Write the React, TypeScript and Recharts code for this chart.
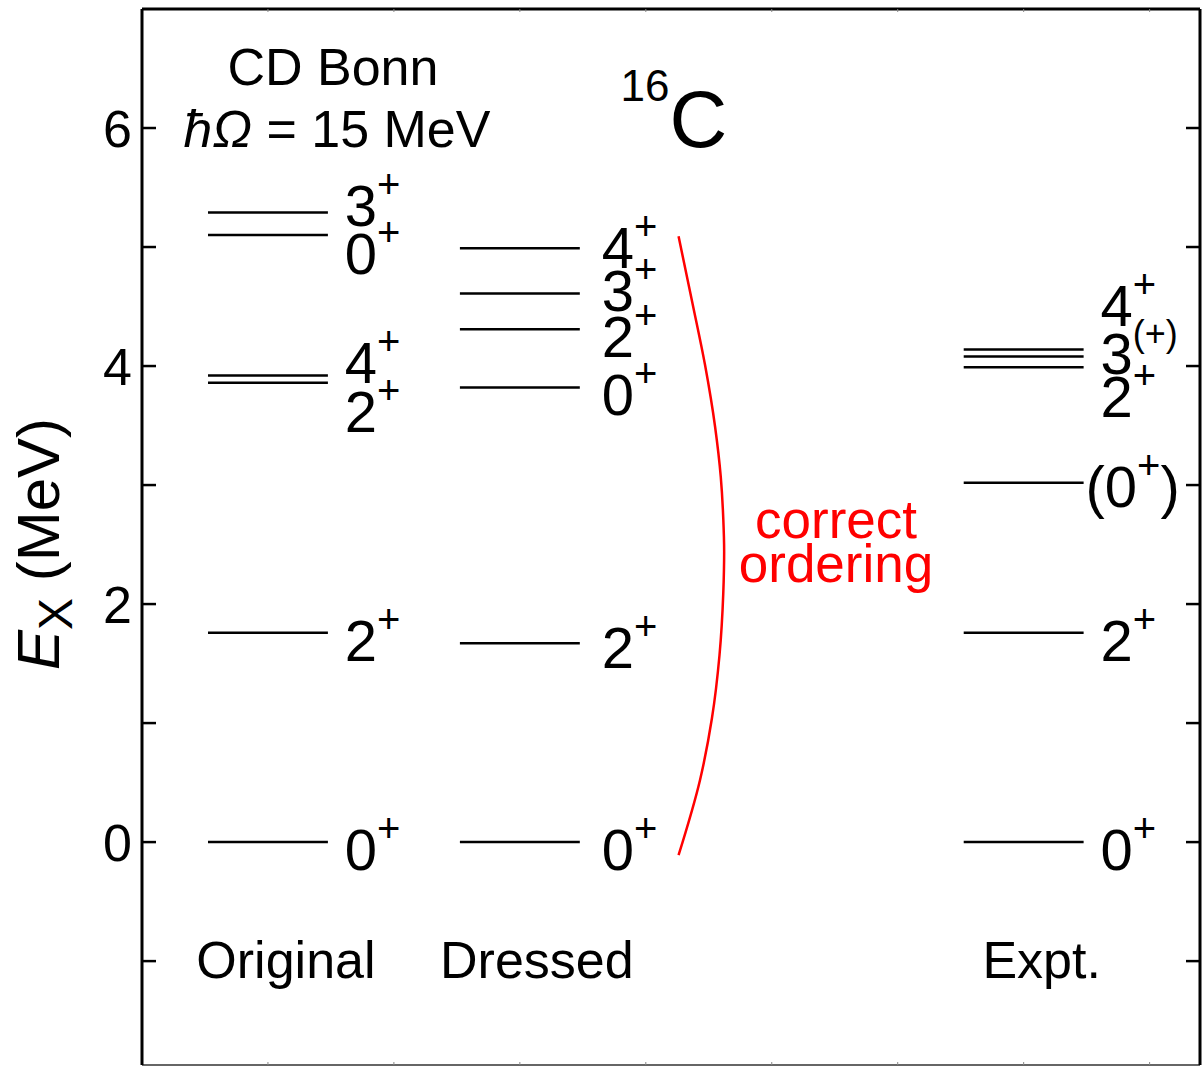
import { ComposedChart, Line, XAxis, YAxis, ReferenceDot } from "recharts";

const FONT = '"Liberation Sans", Arial, Helvetica, sans-serif';

// columns of the level scheme
const columnNames = ["Original", "Dressed", "Expt."];
const columnCenters = [1, 3, 7];
const columnNameX = [1.143, 3.135, 7.143];
const spinLabelX = [1.61, 3.65, 7.61];

// excitation energies (MeV), J^pi, and where each J^pi label sits
const originalE = [0, 1.76, 3.86, 3.92, 5.1, 5.29];
const originalJ = ["0+", "2+", "2+", "4+", "0+", "3+"];
const originalLabelE = [0, 1.76, 3.68, 4.09, 5.01, 5.41];

const dressedE = [0, 1.67, 3.82, 4.31, 4.61, 4.99];
const dressedJ = ["0+", "2+", "0+", "2+", "3+", "4+"];
const dressedLabelE = [0, 1.7, 3.82, 4.31, 4.7, 5.06];

const exptE = [0, 1.76, 3.02, 3.99, 4.08, 4.14];
const exptJ = ["0+", "2+", "(0+)", "2+", "3(+)", "4+"];
const exptLabelE = [0, 1.76, 3.05, 3.81, 4.17, 4.57];

// red "correct ordering" bracket
const bracketX = [4.26, 4.37, 4.47, 4.55, 4.595, 4.615, 4.622, 4.615, 4.585, 4.525, 4.43, 4.26];
const bracketY = [5.09, 4.53, 4.01, 3.49, 3.07, 2.72, 2.44, 2.09, 1.57, 1.04, 0.52, -0.11];

const yTicks = [-1, 0, 1, 2, 3, 4, 5, 6];
const xTicks = [1, 2, 3, 4, 5, 6, 7, 8];
const Y_DOMAIN = [-1.873, 7];
const X_DOMAIN = [0, 8.4];
const HALF_WIDTH = 0.476;

const columns = [
  { E: originalE, J: originalJ, labelE: originalLabelE },
  { E: dressedE, J: dressedJ, labelE: dressedLabelE },
  { E: exptE, J: exptJ, labelE: exptLabelE },
];

const bracket = bracketX.map((x, i) => ({ x, y: bracketY[i] }));

const LeftTick = (props: any) => {
  const { x, y, payload } = props;
  const v = payload.value;
  return (
    <g>
      <line x1={x} x2={x + 14} y1={y} y2={y} stroke="#000" strokeWidth={2.5} />
      {v % 2 === 0 && (
        <text x={x - 10} y={y + 19} textAnchor="end" fontFamily={FONT} fontSize={52} fill="#000">
          {v}
        </text>
      )}
    </g>
  );
};

const RightTick = (props: any) => {
  const { x, y } = props;
  return <line x1={x} x2={x - 14} y1={y} y2={y} stroke="#000" strokeWidth={2.5} />;
};

const TopTick = (props: any) => {
  const { x, y } = props;
  return <line x1={x} x2={x} y1={y} y2={y + 3} stroke="#888" strokeWidth={1} />;
};

const BottomTick = (props: any) => {
  const { x, y } = props;
  return <line x1={x} x2={x} y1={y} y2={y - 3} stroke="#888" strokeWidth={1} />;
};

const AxisTitle = (props: any) => {
  const vb = props.viewBox;
  const x = vb.x + 59;
  const y = vb.y + vb.height / 2 + 133;
  return (
    <text
      x={x}
      y={y}
      transform={`rotate(-90, ${x}, ${y})`}
      fontFamily={FONT}
      fontSize={60}
      fill="#000"
    >
      <tspan fontStyle="italic">E</tspan>
      <tspan fontSize={48} dy={13}>X</tspan>
      <tspan dy={-13}> (MeV)</tspan>
    </text>
  );
};

// J^pi label like 2+, (0+) or 3(+)
const spinShape = (j: string) => (p: any) => {
  const paren = j.startsWith("(");
  const core = paren ? j.slice(1, -1) : j;
  const digit = core[0];
  const sup = core.slice(1);
  return (
    <text x={paren ? p.cx - 15 : p.cx} y={p.cy + 28} fontFamily={FONT} fontSize={58} fill="#000">
      {paren ? "(" + digit : digit}
      <tspan fontSize={sup.length > 1 ? 36 : 40} dy={-28}>{sup}</tspan>
      {paren && <tspan fontSize={58} dy={28}>)</tspan>}
    </text>
  );
};

const textShape = (content: any, anchor = "middle", size = 52, color = "#000") => (p: any) => (
  <text x={p.cx} y={p.cy} textAnchor={anchor} fontFamily={FONT} fontSize={size} fill={color}>
    {content}
  </text>
);

export default function App() {
  return (
    <div style={{ position: "fixed", left: 0, top: 0, width: 1204, height: 1067, background: "#fff" }}>
      <ComposedChart width={1204} height={1067} margin={{ top: 8, right: 0, bottom: 1, left: 0 }}>
        <XAxis
          dataKey="x"
          type="number"
          domain={X_DOMAIN}
          ticks={xTicks}
          allowDataOverflow
          height={1}
          tickSize={0}
          tickMargin={0}
          tickLine={false}
          tick={<BottomTick />}
          axisLine={{ stroke: "#666", strokeWidth: 2 }}
        />
        <XAxis
          xAxisId="top"
          orientation="top"
          dataKey="x"
          type="number"
          domain={X_DOMAIN}
          ticks={xTicks}
          allowDataOverflow
          height={1}
          tickSize={0}
          tickMargin={0}
          tickLine={false}
          tick={<TopTick />}
          axisLine={{ stroke: "#000", strokeWidth: 3 }}
        />
        <YAxis
          type="number"
          domain={Y_DOMAIN}
          ticks={yTicks}
          interval={0}
          allowDataOverflow
          width={142}
          tickSize={0}
          tickMargin={0}
          tickLine={false}
          tick={<LeftTick />}
          axisLine={{ stroke: "#000", strokeWidth: 3 }}
          label={AxisTitle}
        />
        <YAxis
          yAxisId="right"
          orientation="right"
          type="number"
          domain={Y_DOMAIN}
          ticks={yTicks}
          interval={0}
          allowDataOverflow
          width={4}
          tickSize={0}
          tickMargin={0}
          tickLine={false}
          tick={<RightTick />}
          axisLine={{ stroke: "#000", strokeWidth: 3 }}
        />

        {columns.map((col, ci) =>
          col.E.map((e, li) => (
            <Line
              key={`lvl-${ci}-${li}`}
              data={[
                { x: columnCenters[ci] - HALF_WIDTH, y: e },
                { x: columnCenters[ci] + HALF_WIDTH, y: e },
              ]}
              dataKey="y"
              type="linear"
              stroke="#000"
              strokeWidth={2.5}
              dot={false}
              activeDot={false}
              isAnimationActive={false}
            />
          ))
        )}

        <Line
          data={bracket}
          dataKey="y"
          type="monotoneY"
          stroke="#ff0000"
          strokeWidth={2.5}
          dot={false}
          activeDot={false}
          isAnimationActive={false}
        />

        {columns.map((col, ci) =>
          col.J.map((j, li) => (
            <ReferenceDot
              key={`jp-${ci}-${li}`}
              x={spinLabelX[ci]}
              y={col.labelE[li]}
              r={0}
              shape={spinShape(j)}
            />
          ))
        )}

        {columnNames.map((name, ci) => (
          <ReferenceDot key={`name-${ci}`} x={columnNameX[ci]} y={-1.142} r={0} shape={textShape(name)} />
        ))}

        <ReferenceDot x={1.516} y={6.359} r={0} shape={textShape("CD Bonn")} />
        <ReferenceDot
          x={1.548}
          y={5.838}
          r={0}
          shape={textShape(
            <>
              <tspan fontStyle="italic">ħΩ</tspan>
              <tspan> = 15 MeV</tspan>
            </>
          )}
        />
        <ReferenceDot
          x={3.8}
          y={5.838}
          r={0}
          shape={textShape(
            <>
              <tspan fontSize={44} dy={-46}>16</tspan>
              <tspan fontSize={80} dy={46}>C</tspan>
            </>,
            "start",
            80
          )}
        />
        <ReferenceDot
          x={5.51}
          y={2.553}
          r={0}
          shape={(p: any) => (
            <text x={p.cx} y={p.cy} textAnchor="middle" fontFamily={FONT} fontSize={53} fill="#ff0000">
              <tspan x={p.cx}>correct</tspan>
              <tspan x={p.cx} dy={44}>ordering</tspan>
            </text>
          )}
        />
      </ComposedChart>
    </div>
  );
}
